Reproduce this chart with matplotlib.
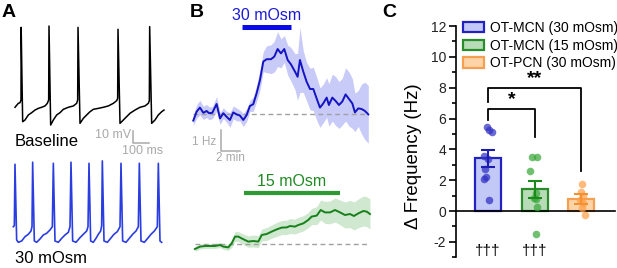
import matplotlib
matplotlib.use('Agg')
import matplotlib.pyplot as plt
import numpy as np

plt.rcParams['font.family'] = ['Liberation Sans', 'DejaVu Sans']
plt.rcParams['axes.unicode_minus'] = False

# ---------------- data ----------------
# Panel A: membrane potential traces (ms, mV), vertices
base_t = [0, 20.8, 31.3, 37.5, 38.5, 47.9, 62.5, 83.3, 104.2, 125, 145.8, 166.7, 187.5, 202.1, 210.4,
          212.5, 222.9, 239.6, 260.4, 281.3, 302.1, 333.3, 364.6, 385.4, 391.7, 393.8, 406.3, 427.1,
          447.9, 468.8, 489.6, 520.8, 552.1, 583.3, 614.6, 635.4, 641.7, 643.8, 656.3, 677.1, 697.9,
          718.8, 750, 781.3, 812.5, 833.3, 839.6, 841.7, 854.2, 875, 895.8, 916.7, 931.3]
base_v = [-46.9, -43.6, -43.1, -40.8, 19.7, -58.9, -57.5, -53.3, -51.4, -49.2, -47.8, -46.9, -45.8, -43.6,
          -40.8, 20.8, -61.7, -57.5, -53.3, -51.4, -48.6, -46.9, -45.8, -43.6, -40.8, 19.7, -60.3, -56.1,
          -53.3, -50.6, -48.6, -47.8, -46.9, -45.8, -43.6, -41.4, -39.4, 18.1, -60.3, -57.5, -54.7,
          -51.9, -49.2, -46.9, -45.8, -43.6, -41.4, 20.3, -60.3, -57.5, -53.3, -50.6, -49.2]

osm_t = [0, 6.3, 10.4, 20.8, 31.3, 52.1, 72.9, 93.8, 110.4, 116.7, 120.8, 131.3, 145.8, 166.7, 187.5,
         208.3, 229.2, 243.8, 250, 260.4, 281.3, 302.1, 322.9, 343.8, 354.2, 360.4, 370.8, 391.7, 416.7,
         437.5, 458.3, 466.7, 472.9, 483.3, 500, 516.7, 531.3, 545.8, 552.1, 556.3, 566.7, 587.5, 608.3,
         629.2, 650, 666.7, 672.9, 683.3, 704.2, 725, 745.8, 766.7, 781.3, 787.5, 797.9, 818.8, 839.6,
         860.4, 881.3, 900, 906.3, 916.7, 927.1]
osm_v = [-48.1, -47.2, 3.9, -59.2, -61.1, -60.0, -56.4, -54.4, -51.7, -48.1, 5.6, -60.0, -61.1, -58.3,
         -55.0, -53.6, -50.8, -48.1, 4.7, -60.0, -61.1, -57.8, -55.0, -52.8, -48.1, 5.6, -60.0, -61.1,
         -57.2, -54.4, -51.7, -48.1, 4.7, -60.0, -61.1, -57.8, -54.4, -51.7, -47.2, 6.7, -60.0, -61.1,
         -57.8, -54.4, -52.2, -48.1, 4.7, -60.0, -61.1, -57.8, -54.4, -51.7, -48.1, 4.7, -60.0, -61.1,
         -57.8, -54.4, -51.7, -48.1, 4.7, -60.0, -61.1]

# Panel B: change in firing frequency (min, Hz), mean and SEM
t30 = [0, 0.34, 0.68, 1.03, 1.37, 1.61, 1.95, 2.39, 2.74, 3.08, 3.42, 3.76, 4.10, 4.44, 4.79, 5.13, 5.47,
       5.81, 6.15, 6.50, 6.84, 7.18, 7.52, 7.97, 8.31, 8.65, 8.99, 9.33, 9.68, 10.02, 10.43, 10.70, 10.94,
       11.28, 11.62, 11.97, 12.31, 12.65, 12.99, 13.33, 13.68, 13.91, 14.26, 14.60, 14.94, 15.28, 15.62,
       15.97, 16.31, 16.58, 16.92, 17.26, 17.61, 17.95]
m30 = [-0.33, 0.12, 0.32, 0.06, 0.15, 0.04, 0.06, 0.50, -0.22, 0.04, -0.14, -0.30, 0.08, -0.02, -0.08,
       -0.30, -0.05, 0.40, 0.49, 1.04, 1.70, 2.62, 2.74, 2.74, 2.87, 3.25, 3.03, 3.25, 2.70, 2.48, 2.12,
       1.86, 2.70, 2.12, 1.62, 1.25, 1.25, 0.78, 0.32, 0.53, 0.82, 0.45, 0.82, 0.65, 0.45, 0.62, 0.98,
       0.75, 0.53, 0.08, 0.28, 0.25, 0.15, -0.02]
s30 = [0.25, 0.33, 0.37, 0.33, 0.33, 0.32, 0.30, 0.37, 0.30, 0.27, 0.27, 0.37, 0.32, 0.32, 0.27, 0.33,
       0.32, 0.27, 0.36, 0.41, 0.50, 0.50, 0.67, 0.72, 0.77, 0.87, 0.72, 0.67, 0.75, 0.84, 0.90, 1.17,
       1.62, 1.04, 0.96, 1.04, 1.08, 1.08, 0.99, 0.96, 0.99, 1.06, 1.17, 1.22, 1.17, 1.17, 1.33, 1.35,
       1.25, 0.96, 0.90, 1.25, 1.44, 1.44]

t15 = [0.17, 0.69, 1.20, 1.71, 2.23, 2.74, 3.08, 3.59, 3.94, 4.28, 4.62, 4.96, 5.30, 5.64, 6.15, 6.67,
       7.02, 7.53, 8.04, 8.55, 9.07, 9.58, 9.92, 10.43, 10.77, 11.28, 11.79, 12.14, 12.66, 13.07, 13.51,
       14.03, 14.54, 15.05, 15.56, 16.07, 16.48, 16.92, 17.44, 17.78, 18.12]
m15 = [-0.25, -0.13, -0.10, -0.10, -0.10, -0.05, -0.13, -0.17, 0.03, 0.37, 0.37, 0.28, 0.20, 0.12, 0.15,
       0.12, 0.45, 0.50, 0.62, 0.73, 0.82, 0.83, 0.90, 0.87, 0.95, 1.03, 1.20, 1.37, 1.42, 1.70, 1.58,
       1.58, 1.70, 1.58, 1.45, 1.50, 1.40, 1.53, 1.65, 1.62, 1.50]
s15 = [0.12, 0.12, 0.12, 0.12, 0.12, 0.13, 0.14, 0.15, 0.20, 0.25, 0.25, 0.25, 0.27, 0.28, 0.30, 0.30,
       0.30, 0.32, 0.33, 0.35, 0.35, 0.36, 0.37, 0.37, 0.38, 0.38, 0.38, 0.40, 0.45, 0.50, 0.55, 0.57,
       0.60, 0.62, 0.65, 0.68, 0.70, 0.72, 0.75, 0.75, 0.75]

stim30 = [5.0, 10.0]   # min
stim15 = [5.2, 15.05]  # min

# Panel C
groups = ["OT-MCN (30 mOsm)", "OT-MCN (15 mOsm)", "OT-PCN (30 mOsm)"]
means = [3.42, 1.41, 0.78]
sems = [0.55, 0.55, 0.30]
pts_mcn30 = [5.47, 5.25, 5.14, 3.59, 3.37, 2.70, 2.22, 2.05, 0.71]
jit_mcn30 = [-0.03, 0.01, 0.08, -0.08, -0.01, -0.06, -0.04, -0.09, 0.02]
pts_mcn15 = [3.52, 3.48, 2.60, 1.20, 0.85, 0.80, 0.28, -1.50]
jit_mcn15 = [-0.05, 0.06, -0.10, 0.02, -0.02, 0.02, 0.06, 0.02]
pts_pcn30 = [1.75, 1.25, 0.97, 0.71, 0.50, 0.17, -0.26]
jit_pcn30 = [0.03, 0.00, 0.04, -0.03, 0.05, 0.03, 0.08]
sig_pairs = [(0, 1), (0, 2)]
sig_labels = ["*", "**"]
sig_top = [6.6, 8.0]
sig_left_end = [5.9, 7.1]
sig_right_end = [4.8, 2.6]
dagger_groups = [0, 1]

# ---------------- figure ----------------
W, H = 617, 268
fig = plt.figure(figsize=(W / 100, H / 100), dpi=100)


def px_axes(x0, y0, x1, y1):
    ax = fig.add_axes([x0 / W, 1 - y1 / H, (x1 - x0) / W, (y1 - y0) / H])
    return ax


def ftext(x, y, s, **kw):
    fig.text(x / W, 1 - y / H, s, **kw)


GRAY = '#a9a9a9'

# Panel labels
ftext(2, 16.7, 'A', fontsize=14, fontweight='bold', va='baseline')
ftext(190, 16.7, 'B', fontsize=14, fontweight='bold', va='baseline')
ftext(382, 16.7, 'C', fontsize=14, fontweight='bold', va='baseline')

# ---- Panel A ----
axA1 = px_axes(10, 18, 170, 150)
axA1.set_xlim(-31.25, 968.75)
axA1.set_ylim(-82.5, 27.5)
axA1.axis('off')
axA1.plot(base_t, base_v, color='black', lw=1.1)
axA1.plot([737.5, 737.5, 837.5], [-66.7, -76.7, -76.7], color=GRAY, lw=1.1, clip_on=False)
axA1.text(728, -70, '10 mV', color=GRAY, fontsize=9, ha='right', va='center')
axA1.text(795, -83.3, '100 ms', color=GRAY, fontsize=9, ha='center', va='center', clip_on=False)
axA1.text(0, -79, 'Baseline', fontsize=12, ha='left', va='baseline')

axA2 = px_axes(10, 150, 170, 268)
axA2.set_xlim(-20.8, 979.2)
axA2.set_ylim(-82.5, 15.8)
axA2.axis('off')
axA2.plot(osm_t, osm_v, color='#2a3de0', lw=1.2)
axA2.text(10, -78.3, '30 mOsm', fontsize=12, ha='left', va='baseline')

# ---- Panel B ----
t30a, m30a, s30a = np.array(t30), np.array(m30), np.array(s30)
axB1 = px_axes(185, 0, 380, 160)
axB1.set_xlim(-0.85, 19.15)
axB1.set_ylim(-2.3, 5.7)
axB1.axis('off')
axB1.fill_between(t30a, m30a - s30a, m30a + s30a, color='#c8caf7', lw=0)
axB1.plot([t30a[0], t30a[-1]], [0, 0], color='#a0a0a0', lw=1.0, ls=(0, (3.5, 2.5)))
axB1.plot(t30a, m30a, color='#1414c4', lw=1.4)
axB1.plot(stim30, [4.33, 4.33], color='#0a0ae6', lw=3.6, solid_capstyle='butt')
axB1.text(np.mean(stim30) + 0.05, 4.93, '30 mOsm', color='#1a1ad6', fontsize=11.5, ha='center', va='center')
axB1.plot([2.84, 2.84, 4.79], [-0.8, -1.85, -1.85], color=GRAY, lw=1.1, clip_on=False)
axB1.text(2.4, -1.4, '1 Hz', color=GRAY, fontsize=8.5, ha='right', va='center')
axB1.text(3.76, -2.2, '2 min', color=GRAY, fontsize=8.5, ha='center', va='center')

t15a, m15a, s15a = np.array(t15), np.array(m15), np.array(s15)
axB2 = px_axes(185, 165, 380, 262)
axB2.set_xlim(-0.85, 19.15)
axB2.set_ylim(-0.9, 3.95)
axB2.axis('off')
axB2.fill_between(t15a, m15a - s15a, m15a + s15a, color='#cfe8cf', lw=0)
axB2.plot([t15a[0], t15a[-1]], [0, 0], color='#a0a0a0', lw=1.0, ls=(0, (3.5, 2.5)))
axB2.plot(t15a, m15a, color='#17801a', lw=1.4)
axB2.plot(stim15, [2.55, 2.55], color='#2e9a32', lw=3.0, solid_capstyle='butt')
axB2.text(np.mean(stim15), 3.1, '15 mOsm', color='#1f8a22', fontsize=11.5, ha='center', va='center')

# ---- Panel C ----
axC = px_axes(456, 26, 615, 257.3)
axC.set_xlim(-0.69, 2.73)
axC.set_ylim(-3, 12)
fills = ['#c3c9f7', '#b7dcb7', '#fdd3a8']
edges = ['#2222c0', '#2a8c2a', '#f5a050']
errc = ['#1c1cb0', '#1a8a1a', '#f39030']
dotc = ['#3030c4', '#3aa83a', '#ffa04a']
xs = np.arange(len(groups))
for i in range(len(groups)):
    axC.bar(xs[i], means[i], width=0.56, color=fills[i], edgecolor=edges[i], lw=1.6,
            label=groups[i], zorder=2)
for i, (p, j) in enumerate([(pts_mcn30, jit_mcn30), (pts_mcn15, jit_mcn15), (pts_pcn30, jit_pcn30)]):
    axC.scatter(xs[i] + np.array(j), p, s=30, color=dotc[i], alpha=0.72, lw=0, zorder=3)
for i in range(len(groups)):
    axC.errorbar(xs[i], means[i], yerr=sems[i], color=errc[i], lw=1.5, capsize=4.8,
                 capthick=1.5, zorder=4)

for (a, b), lab, top, le, re in zip(sig_pairs, sig_labels, sig_top, sig_left_end, sig_right_end):
    axC.plot([xs[a], xs[a], xs[b], xs[b]], [le, top, top, re], color='black', lw=1.3, zorder=5)
    axC.text((xs[a] + xs[b]) / 2, top + 0.05, lab, ha='center', va='bottom', fontsize=14,
             fontweight='bold')
for g in dagger_groups:
    axC.text(xs[g], -2.62, '\u2020\u2020\u2020', ha='center', va='center', fontsize=11)

for s in ['top', 'right']:
    axC.spines[s].set_visible(False)
axC.spines['bottom'].set_position(('data', 0))
axC.spines['bottom'].set_linewidth(1.2)
axC.spines['left'].set_linewidth(1.2)
axC.set_xticks([])
axC.set_yticks(np.arange(-2, 13, 2))
axC.set_yticks(np.arange(-3, 12, 2), minor=True)
axC.tick_params(axis='y', which='major', length=5, width=1.2, pad=2, labelsize=10, labelcolor='#222222')
axC.tick_params(axis='y', which='minor', length=3, width=1.2)
axC.set_ylabel('\u0394 Frequency (Hz)', fontsize=13.5, va='center')
axC.yaxis.set_label_coords(-0.265, 0.436)
axC.legend(loc='upper left', bbox_to_anchor=(0.044, 1.022), frameon=False, fontsize=10,
           handlelength=1.5, handleheight=0.75, handletextpad=0.45, labelspacing=0.27,
           borderpad=0, borderaxespad=0)

fig.savefig('out.png', dpi=100)
